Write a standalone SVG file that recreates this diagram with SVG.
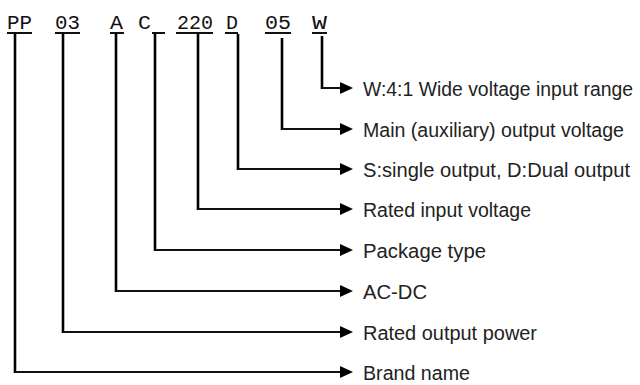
<svg xmlns="http://www.w3.org/2000/svg" width="640" height="385" viewBox="0 0 640 385">
<style>
.code{font-family:"Liberation Mono","DejaVu Sans Mono",monospace;font-size:20px;fill:#111;}
.ul{stroke:#111;stroke-width:2;}
.v{stroke:#000;stroke-width:2.6;fill:none;}
.h{stroke:#111;stroke-width:2;fill:none;marker-end:url(#arr);}
.lbl{font-family:"Liberation Sans",Arial,sans-serif;font-size:20px;fill:#222;}
</style>
<defs>
<marker id="arr" markerUnits="userSpaceOnUse" markerWidth="14" markerHeight="13" refX="1" refY="6.5" orient="auto">
<path d="M0,0.5 L13,6.5 L0,12.5 Z" fill="#000"/>
</marker>
</defs>
<rect width="640" height="385" fill="#fff"/>
<g id="codes">
<g id="code-pp"><text class="code" x="7" y="29" textLength="25" lengthAdjust="spacingAndGlyphs">PP</text><line class="ul" x1="7" y1="33" x2="32" y2="33"/></g>
<g id="code-03"><text class="code" x="55" y="29" textLength="25" lengthAdjust="spacingAndGlyphs">03</text><line class="ul" x1="55" y1="33" x2="80" y2="33"/></g>
<g id="code-a"><text class="code" x="110" y="29" textLength="13" lengthAdjust="spacingAndGlyphs">A</text><line class="ul" x1="110" y1="33" x2="124" y2="33"/></g>
<g id="code-c"><text class="code" x="138" y="29" textLength="13" lengthAdjust="spacingAndGlyphs">C</text><line class="ul" x1="152" y1="33" x2="165" y2="33"/></g>
<g id="code-220"><text class="code" x="177" y="29" textLength="36" lengthAdjust="spacingAndGlyphs">220</text><line class="ul" x1="176" y1="33" x2="213" y2="33"/></g>
<g id="code-d"><text class="code" x="226" y="29" textLength="12" lengthAdjust="spacingAndGlyphs">D</text><line class="ul" x1="225" y1="33" x2="238" y2="33"/></g>
<g id="code-05"><text class="code" x="265" y="29" textLength="26" lengthAdjust="spacingAndGlyphs">05</text><line class="ul" x1="265" y1="33" x2="291" y2="33"/></g>
<g id="code-w"><text class="code" x="312" y="29" textLength="15" lengthAdjust="spacingAndGlyphs">W</text><line class="ul" x1="312" y1="33" x2="327" y2="33"/></g>
</g>
<g id="connectors">
<line class="v" x1="15" y1="33" x2="15" y2="373"/><line class="h" x1="15" y1="372" x2="341" y2="372"/>
<line class="v" x1="63" y1="33" x2="63" y2="333"/><line class="h" x1="63" y1="332" x2="341" y2="332"/>
<line class="v" x1="116" y1="33" x2="116" y2="292"/><line class="h" x1="116" y1="291" x2="341" y2="291"/>
<line class="v" x1="155" y1="33" x2="155" y2="251"/><line class="h" x1="155" y1="250" x2="341" y2="250"/>
<line class="v" x1="198" y1="33" x2="198" y2="210"/><line class="h" x1="198" y1="209" x2="341" y2="209"/>
<line class="v" x1="238" y1="34" x2="238" y2="170"/><line class="h" x1="238" y1="169" x2="341" y2="169"/>
<line class="v" x1="282" y1="38" x2="282" y2="130"/><line class="h" x1="282" y1="129" x2="341" y2="129"/>
<line class="v" x1="322" y1="36" x2="322" y2="89"/><line class="h" x1="322" y1="88" x2="341" y2="88"/>
</g>
<g id="labels">
<g id="lbl-w"><text class="lbl" x="363" y="95.5" style="font-size:19.4px" textLength="270" lengthAdjust="spacingAndGlyphs">W:4:1 Wide voltage input range</text></g>
<g id="lbl-05"><text class="lbl" x="363" y="136.5" textLength="261" lengthAdjust="spacingAndGlyphs">Main (auxiliary) output voltage</text></g>
<g id="lbl-d"><text class="lbl" x="363" y="176.5" textLength="267" lengthAdjust="spacingAndGlyphs">S:single output, D:Dual output</text></g>
<g id="lbl-220"><text class="lbl" x="363" y="216.5" textLength="168" lengthAdjust="spacingAndGlyphs">Rated input voltage</text></g>
<g id="lbl-c"><text class="lbl" x="363" y="257.5" textLength="123" lengthAdjust="spacingAndGlyphs">Package type</text></g>
<g id="lbl-a"><text class="lbl" x="363" y="298.5" textLength="64" lengthAdjust="spacingAndGlyphs">AC-DC</text></g>
<g id="lbl-03"><text class="lbl" x="363" y="339.5" textLength="174" lengthAdjust="spacingAndGlyphs">Rated output power</text></g>
<g id="lbl-pp"><text class="lbl" x="363" y="379.5" textLength="107" lengthAdjust="spacingAndGlyphs">Brand name</text></g>
</g>
</svg>
